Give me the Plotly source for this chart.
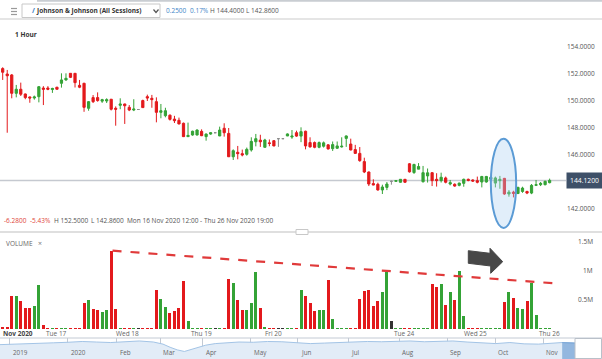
import plotly.graph_objects as go

W, H = 602, 359
FONT = "Open Sans"

# ---------------- data ----------------
opens = [152.40, 152.00, 151.93, 150.57, 150.87, 150.52, 150.30, 150.22, 150.32, 150.96,
         150.96, 150.85, 151.02, 151.31, 151.56, 152.05, 152.05, 151.16, 151.31, 149.46,
         150.25, 150.25, 149.99, 150.00, 150.13, 149.46, 149.68, 149.78, 149.53, 149.33,
         149.37, 150.03, 150.32, 150.20, 149.95, 149.16, 148.91, 148.95, 148.66, 148.57,
         148.35, 147.36, 147.48, 147.48, 147.75, 147.36, 147.55, 147.65, 147.41, 147.98,
         147.60, 145.87, 146.20, 146.10, 146.05, 146.37, 146.98, 147.10, 146.57, 146.90,
         147.06, 147.21, 147.21, 147.41, 147.33, 147.65, 147.40, 147.76, 146.92, 146.92,
         146.57, 146.65, 146.75, 146.47, 146.50, 146.60, 147.23, 146.81, 146.40, 146.12,
         145.51, 144.74, 143.88, 143.83, 143.41, 143.60, 144.05, 144.05, 143.98, 144.20,
         145.35, 144.70, 144.95, 144.02, 144.45, 144.69, 144.20, 144.10, 144.30, 143.85,
         143.83, 143.75, 143.90, 144.20, 144.15, 144.10, 144.00, 144.00, 144.20, 143.92,
         144.10, 144.27, 143.11, 143.25, 143.15, 143.30, 143.30, 143.18, 143.75, 143.80,
         143.80, 143.95]
closes = [152.13, 151.87, 150.57, 150.87, 150.50, 150.25, 150.22, 150.30, 151.06, 150.87,
          150.87, 150.93, 150.87, 151.56, 151.68, 151.75, 151.36, 151.02, 149.53, 149.95,
          149.95, 150.03, 150.10, 150.10, 149.39, 149.39, 149.78, 149.65, 149.33, 149.40,
          149.37, 149.51, 150.22, 150.10, 149.16, 149.28, 149.28, 148.64, 148.54, 148.30,
          147.36, 147.45, 147.76, 147.85, 147.43, 147.55, 147.65, 147.65, 147.85, 147.65,
          145.87, 146.32, 146.10, 146.00, 146.42, 147.01, 147.21, 146.98, 147.11, 146.85,
          146.67, 147.21, 147.21, 147.56, 147.40, 147.40, 147.73, 146.67, 146.60, 146.57,
          146.92, 146.90, 146.45, 146.77, 146.67, 146.65, 147.41, 146.37, 146.12, 145.58,
          144.74, 143.85, 143.78, 143.41, 143.63, 143.85, 144.05, 144.10, 144.20, 143.98,
          144.75, 145.30, 145.15, 144.69, 144.68, 144.10, 144.10, 144.35, 143.98, 143.95,
          143.70, 143.92, 144.20, 144.12, 144.07, 143.98, 144.41, 144.41, 144.35, 144.30,
          144.20, 143.11, 143.25, 143.15, 143.60, 143.55, 143.18, 143.75, 143.80, 143.90,
          144.05, 144.12]
highs = [152.50, 152.30, 152.00, 151.19, 151.36, 150.55, 150.33, 150.40, 151.11, 151.10,
         151.10, 150.98, 151.05, 152.05, 152.05, 152.07, 152.05, 151.56, 151.35, 150.00,
         150.44, 150.64, 150.16, 150.20, 150.15, 149.60, 150.20, 149.80, 149.70, 150.13,
         149.37, 150.10, 150.47, 150.45, 150.27, 149.78, 149.50, 149.00, 148.90, 148.77,
         148.40, 148.40, 147.80, 147.90, 147.90, 147.60, 147.68, 147.65, 148.10, 148.35,
         148.00, 146.42, 146.67, 146.40, 146.55, 147.31, 147.56, 147.50, 147.20, 147.15,
         147.10, 147.21, 147.21, 147.60, 147.85, 147.80, 148.05, 147.80, 147.31, 147.00,
         147.00, 147.00, 146.80, 147.00, 147.00, 147.31, 147.45, 147.21, 146.75, 146.59,
         145.80, 144.78, 144.20, 143.95, 143.80, 144.00, 144.10, 144.10, 144.22, 144.22,
         145.40, 145.35, 145.40, 145.19, 145.00, 144.72, 144.65, 144.69, 144.40, 144.15,
         143.90, 143.95, 144.25, 144.25, 144.20, 144.40, 144.45, 144.45, 144.40, 144.40,
         144.45, 144.30, 143.40, 143.35, 143.65, 143.65, 143.35, 143.85, 144.15, 144.00,
         144.10, 144.25]
lows = [151.56, 147.65, 150.20, 150.27, 150.37, 150.13, 149.87, 150.10, 149.90, 149.70,
        150.80, 150.60, 150.85, 150.99, 151.50, 151.70, 151.00, 150.95, 149.20, 149.28,
        149.85, 149.95, 149.86, 149.85, 149.30, 148.17, 149.39, 148.30, 149.25, 149.25,
        149.37, 149.50, 150.00, 149.50, 148.42, 148.72, 148.79, 148.55, 148.37, 148.27,
        147.33, 147.33, 147.43, 147.45, 147.40, 147.06, 147.50, 147.65, 147.40, 147.36,
        145.85, 145.63, 145.68, 145.90, 145.95, 146.25, 146.64, 146.60, 146.55, 146.65,
        146.65, 146.60, 147.21, 147.40, 147.20, 147.35, 146.95, 146.42, 146.55, 146.50,
        146.50, 146.55, 146.40, 146.30, 146.45, 146.55, 146.60, 146.35, 146.10, 145.50,
        144.66, 143.70, 143.76, 143.36, 143.11, 143.40, 143.80, 144.00, 143.95, 143.95,
        144.70, 144.60, 144.95, 143.96, 143.96, 143.70, 143.66, 143.96, 143.90, 143.75,
        143.65, 143.68, 143.65, 144.05, 144.00, 143.90, 143.60, 143.95, 144.15, 143.60,
        143.50, 143.05, 142.91, 142.86, 143.10, 143.20, 143.10, 143.10, 143.70, 143.70,
        143.75, 143.90]
volumes_m = [0.02, 0.02,
             0.574, 0.574, 0.49, 0.37, 0.37, 0.40, 0.76, 0.07,
             0.006, 0.006, 0.006, 0.006, 0.006, 0.006, 0.006, 0.006,
             0.45, 0.50, 0.345, 0.32, 0.29, 0.32, 1.35, 0.34,
             0.006, 0.006, 0.006, 0.006, 0.006, 0.006, 0.006, 0.006,
             0.67, 0.51, 0.385, 0.28, 0.31, 0.37, 0.83, 0.14,
             0.006, 0.006, 0.006, 0.006, 0.006, 0.006, 0.006, 0.006,
             0.86, 0.80, 0.50, 0.33, 0.33, 0.45, 0.98, 0.36, 0.03,
             0.006, 0.006, 0.006, 0.006, 0.006, 0.006, 0.006,
             0.68, 0.57, 0.44, 0.31, 0.33, 0.33, 0.84, 0.17,
             0.006, 0.006, 0.012, 0.012, 0.006,
             0.51, 0.66, 0.67, 0.40, 0.49, 0.63, 0.99, 0.13,
             0.006, 0.006, 0.006, 0.006, 0.006, 0.006, 0.012, 0.012,
             0.77, 0.72, 0.77, 0.41, 0.63, 0.50, 1.00, 0.22,
             0.006, 0.006, 0.006, 0.006, 0.006, 0.006, 0.006, 0.006,
             0.47, 0.64, 0.53, 0.37, 0.345, 0.48, 0.79, 0.24,
             0.006, 0.006, 0.006]

date_labels = ["Nov 2020", "Tue 17", "Wed 18", "Thu 19", "Fri 20", "Tue 24", "Wed 25", "Thu 26"]
date_label_slots = [3.3, 12.0, 27.7, 44.0, 59.8, 89.0, 104.7, 120.9]
price_ticks = [142, 146, 148, 150, 152, 154]
vol_ticks = [0.5, 1.0, 1.5]
vol_tick_labels = ["0.5M", "1M", "1.5M"]
last_price = 144.12

nav_labels = ["2019", "2020", "Feb", "Mar", "Apr", "May", "Jun", "Jul", "Aug", "Sep", "Oct", "Nov"]
nav_label_pos = [-1.22, 0.0, 1.03, 1.94, 2.84, 3.85, 4.84, 5.90, 6.97, 7.98, 8.99, 10.0]
nav_m = [-1.43, -1.2, -0.9, -0.6, -0.3, 0.0, 0.3, 0.6, 0.9, 1.2, 1.5, 1.8, 2.0, 2.15, 2.3, 2.45,
         2.6, 2.75, 2.9, 3.1, 3.3, 3.6, 3.9, 4.2, 4.5, 4.8, 5.1, 5.4, 5.7, 6.0, 6.3, 6.6, 6.9,
         7.2, 7.5, 7.8, 8.1, 8.4, 8.7, 9.0, 9.3, 9.6, 9.9, 10.2, 10.4, 10.67]
nav_price = [138, 140, 141, 143, 145, 147, 150, 148, 146, 149, 152, 148, 140, 128, 118, 112,
             120, 130, 136, 142, 145, 148, 147, 150, 149, 146, 142, 144, 146, 148, 150, 149, 151,
             152, 149, 150, 152, 148, 146, 142, 146, 141, 140, 143, 146, 144]

# annotation helpers data
highlight_slots = (108.0, 113.6)
highlight_price = (140.6, 147.2)
trend_end = (121.7, 0.79)

# ---------------- helpers ----------------
UP, DN, FLAT = "#34a336", "#e3191c", "#8c8c8c"
n = len(opens)
slots = list(range(n))


def px(x):
    return x / W


def py(y):
    return 1 - y / H


def slot_of(xpx):
    return (xpx - 2.7) / 4.52


up_i = [i for i in slots if closes[i] > opens[i]]
dn_i = [i for i in slots if closes[i] < opens[i]]
fl_i = [i for i in slots if closes[i] == opens[i]]

fig = go.Figure()


def add_candles(idx, color):
    fig.add_trace(go.Candlestick(
        x=[slots[i] for i in idx], open=[opens[i] for i in idx], high=[highs[i] for i in idx],
        low=[lows[i] for i in idx], close=[closes[i] for i in idx],
        increasing=dict(line=dict(color=color, width=1), fillcolor=color),
        decreasing=dict(line=dict(color=color, width=1), fillcolor=color),
        xaxis="x", yaxis="y", hoverinfo="skip", showlegend=False))


add_candles(up_i, UP)
add_candles(dn_i, DN)
add_candles(fl_i, FLAT)

vol_colors = [UP if closes[i] > opens[i] else (DN if closes[i] < opens[i] else "#333333") for i in slots]
fig.add_trace(go.Bar(x=slots, y=volumes_m, marker=dict(color=vol_colors, line=dict(width=0)),
                     width=0.66, xaxis="x2", yaxis="y2", hoverinfo="skip", showlegend=False))

# navigator
fig.add_trace(go.Scatter(x=nav_m, y=nav_price, mode="lines", fill="tozeroy",
                         line=dict(color="#a3c4e6", width=1), fillcolor="#e2ecf7",
                         xaxis="x3", yaxis="y3", hoverinfo="skip", showlegend=False))
sel_m = [m for m in nav_m if m >= 10.4]
sel_p = [p for m, p in zip(nav_m, nav_price) if m >= 10.4]
fig.add_trace(go.Scatter(x=sel_m, y=sel_p, mode="lines", fill="tozeroy",
                         line=dict(color="#7ea9d8", width=1), fillcolor="rgba(120,165,215,0.75)",
                         xaxis="x3", yaxis="y3", hoverinfo="skip", showlegend=False))

x_range = [slot_of(0), slot_of(566)]
x_dom = [0, px(566)]

layout = dict(
    width=W, height=H, margin=dict(l=0, r=0, t=0, b=0),
    paper_bgcolor="white", plot_bgcolor="rgba(0,0,0,0)",
    font=dict(family=FONT, size=7, color="#555"),
    showlegend=False, boxgap=0.3, bargap=0,
    xaxis=dict(domain=x_dom, range=x_range, showgrid=False, zeroline=False, showticklabels=False,
               showline=False, rangeslider=dict(visible=False), fixedrange=True),
    yaxis=dict(domain=[py(231), py(20)], range=[140.37, 156.0], side="right", anchor="x",
               tickvals=price_ticks, tickformat=".4f", showgrid=False, zeroline=False,
               tickfont=dict(size=6.5, color="#555"), ticks="", showline=False),
    xaxis2=dict(domain=x_dom, range=x_range, anchor="y2", showgrid=False, zeroline=False,
                showticklabels=False, showline=False),
    yaxis2=dict(domain=[py(329), py(236)], range=[0, 1.603], anchor="x2", showgrid=False,
                zeroline=False, showticklabels=False),
    xaxis3=dict(domain=[0, px(575)], range=[-1.43, 10.67], anchor="y3", tickvals=nav_label_pos,
                showgrid=True, gridcolor="#c3cad4", gridwidth=1, zeroline=False,
                showticklabels=False, ticks=""),
    yaxis3=dict(domain=[0, py(338)], range=[83.3, 163.3], anchor="x3", showgrid=False,
                zeroline=False, showticklabels=False),
)
fig.update_layout(**layout)

shapes = []
ann = []


def text(t, x, y, size=6.5, color="#555", anchor="left", bold=False, xref="paper", yref="paper"):
    ann.append(dict(text=f"<b>{t}</b>" if bold else t,
                    x=px(x) if xref == "paper" else x, y=py(y) if yref == "paper" else y,
                    xref=xref, yref=yref, xanchor=anchor, yanchor="middle", showarrow=False,
                    font=dict(size=size, color=color, family=FONT), borderpad=0))


def rect(x0, y0, x1, y1, fill, line="rgba(0,0,0,0)", lw=1):
    shapes.append(dict(type="rect", xref="paper", yref="paper", x0=px(x0), x1=px(x1), y0=py(y1), y1=py(y0),
                       fillcolor=fill, line=dict(color=line, width=lw), layer="above"))


def hline(x0, x1, y, color, lw=1):
    shapes.append(dict(type="line", xref="paper", yref="paper", x0=px(x0), x1=px(x1), y0=py(y), y1=py(y),
                       line=dict(color=color, width=lw), layer="above"))


# header
rect(37, 0, 602, 1.8, "#c9cdd2")
hline(0, 602, 19, "#dcdcdc", 1.5)
for yy in (8.5, 11.5, 14.5):
    hline(11, 17, yy, "#9a9a9a", 1.2)
rect(22, 4, 160, 17.5, "white", "#c8c8c8", 1)
text("/", 31, 11, 7, "#3d7ec4", bold=True)
text("Johnson & Johnson (All Sessions)", 35, 11, 6.5, "#333", bold=True)
shapes.append(dict(type="path", xref="paper", yref="paper",
                   path=f"M {px(153.5)},{py(9.5)} L {px(156)},{py(12.5)} L {px(158.5)},{py(9.5)}",
                   line=dict(color="#555", width=1.2), layer="above"))
text("0.2500", 165, 11, 6.5, "#3f86c8")
text("0.17%", 189, 11, 6.5, "#3f86c8")
text("H 144.4000", 209, 11, 6.5, "#555")
text("L 142.8600", 245, 11, 6.5, "#555")
text("1 Hour", 14, 34.5, 6.5, "#333", bold=True)

# price pane bottom info
text("-6.2800", 3, 220, 6.5, "#e0453a")
text("-5.43%", 29, 220, 6.5, "#e0453a")
text("H 152.5000", 53, 220, 6.5, "#555")
text("L 142.8600", 90, 220, 6.5, "#555")
text("Mon 16 Nov 2020 12:00 - Thu 26 Nov 2020 19:00", 126, 220, 6.5, "#555")

# current price line and label
shapes.append(dict(type="line", xref="paper", yref="y", x0=0, x1=px(566), y0=last_price, y1=last_price,
                   line=dict(color="#c5c9d0", width=1.5), layer="below"))
ann.append(dict(text=f"{last_price:.4f}", x=px(584), y=last_price, xref="paper", yref="y",
                xanchor="center", yanchor="middle", showarrow=False, bgcolor="#3e5068",
                borderpad=3, font=dict(size=6.8, color="white", family=FONT)))

# highlight ellipse
shapes.append(dict(type="circle", xref="x", yref="y", x0=highlight_slots[0], x1=highlight_slots[1],
                   y0=highlight_price[0], y1=highlight_price[1],
                   fillcolor="rgba(170,205,240,0.35)", line=dict(color="#5b9bd5", width=2), layer="above"))

# pane separator
hline(0, 602, 232, "#d5d5d5", 1.5)
rect(296, 229.5, 308, 234.5, "white", "#c8c8c8", 1)

# volume pane
text("VOLUME", 5, 244, 6.5, "#666")
text("×", 37, 244, 7, "#777")
for v, lab in zip(vol_ticks, vol_tick_labels):
    ann.append(dict(text=lab, x=px(594), y=v, xref="paper", yref="y2", xanchor="right", yanchor="middle",
                    showarrow=False, font=dict(size=6.5, color="#555", family=FONT), borderpad=0))
for s, lab in zip(date_label_slots, date_labels):
    ann.append(dict(text=f"<b>{lab}</b>" if lab == date_labels[0] else lab, x=s, y=py(333), xref="x2",
                    yref="paper", xanchor="center", yanchor="middle", showarrow=False,
                    font=dict(size=6.5, color="#444" if lab == date_labels[0] else "#666", family=FONT),
                    borderpad=0))

# dashed trend line on volume peaks
peak = max(slots, key=lambda i: volumes_m[i])
shapes.append(dict(type="line", xref="x2", yref="y2", x0=slots[peak] + 0.3, y0=volumes_m[peak],
                   x1=trend_end[0], y1=trend_end[1],
                   line=dict(color="#e03a3a", width=2.2, dash="dash"), layer="above"))

# dark arrow
pts = [(468.3, 250.7), (490, 253.3), (490, 248.3), (502.7, 261.7), (490.7, 273.3), (490.7, 266),
       (468.3, 263.3)]
path = "M " + " L ".join(f"{px(a)},{py(b)}" for a, b in pts) + " Z"
shapes.append(dict(type="path", xref="paper", yref="paper", path=path, fillcolor="#474747",
                   line=dict(color="#474747", width=1), layer="above"))

# navigator frame
hline(0, 602, 338, "#c3cad4", 1)
rect(575, 338.5, 601.5, 358.5, "white", "#b9c0c9", 1)
for m, lab in zip(nav_label_pos, nav_labels):
    ann.append(dict(text=lab, x=m, y=py(352), xref="x3", yref="paper", xanchor="left", yanchor="middle",
                    xshift=2, showarrow=False, font=dict(size=6.3, color="#666", family=FONT), borderpad=0))

fig.update_layout(shapes=shapes, annotations=ann)
fig.write_html("out.html", config=dict(displayModeBar=False),
               post_script="document.body.style.margin='0px';document.body.style.overflow='hidden';")
